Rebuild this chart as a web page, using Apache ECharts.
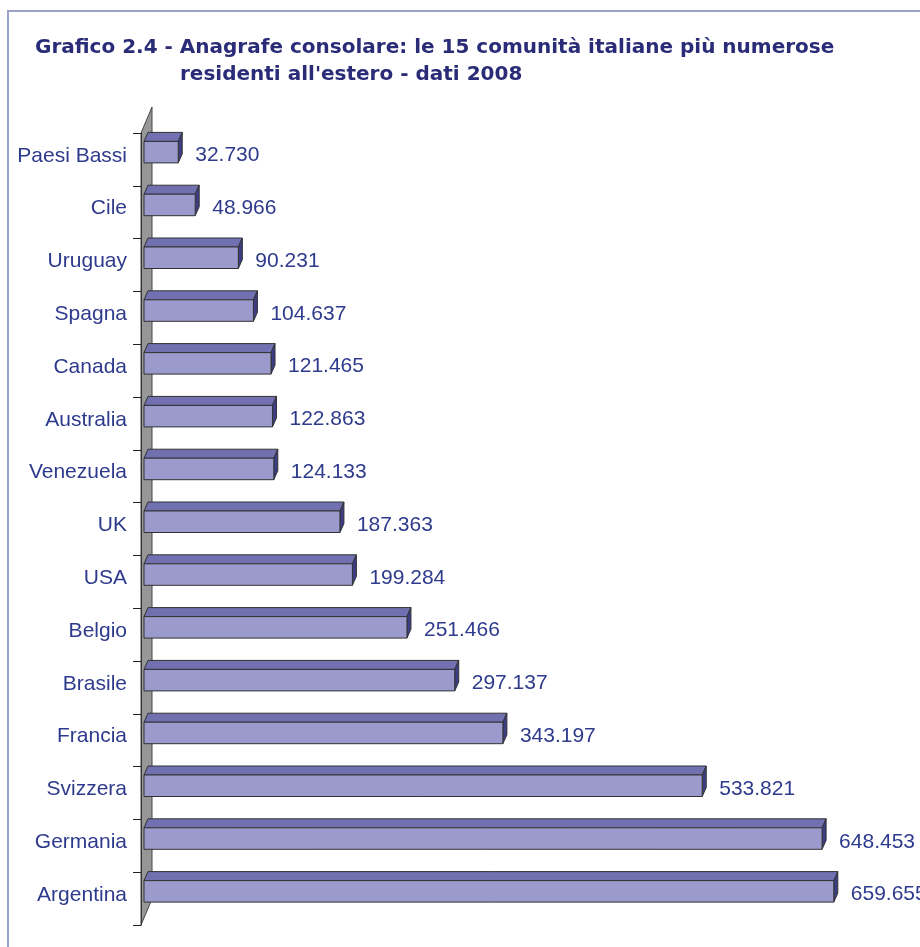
<!DOCTYPE html>
<html>
<head>
<meta charset="utf-8">
<script src="https://cdn.jsdelivr.net/npm/echarts@6/dist/echarts.min.js"></script>
<style>
  html, body { margin: 0; padding: 0; background: #fff; }
  #chart { width: 920px; height: 947px; }
</style>
</head>
<body>
<div id="chart"></div>
<script>
// categories, top to bottom
const countries = ["Paesi Bassi", "Cile", "Uruguay", "Spagna", "Canada", "Australia", "Venezuela",
  "UK", "USA", "Belgio", "Brasile", "Francia", "Svizzera", "Germania", "Argentina"];
const residents = [32730, 48966, 90231, 104637, 121465, 122863, 124133,
  187363, 199284, 251466, 297137, 343197, 533821, 648453, 659655];

const textColor = "#2e3a8c";
const fmt = (v) => String(v).replace(/\B(?=(\d{3})+(?!\d))/g, ".");

const chart = echarts.init(document.getElementById("chart"));

const titleStyle = { color: "#2a2c78", fontSize: 20, fontWeight: "bold", fontFamily: "DejaVu Sans" };

const option = {
  animation: false,
  title: [
    {
      text: "Grafico 2.4 - Anagrafe consolare: le 15 comunità italiane più numerose",
      left: 35, top: 38, padding: 0,
      textStyle: titleStyle,
    },
    {
      text: "residenti all'estero - dati 2008",
      left: 180, top: 65, padding: 0,
      textStyle: titleStyle,
    },
  ],
  graphic: [
    {
      type: "rect",
      shape: { x: 8, y: 11, width: 1000, height: 1000 },
      style: { fill: "none", stroke: "#9aa2cc", lineWidth: 2 },
      z: -10,
    },
  ],
  grid: { left: 141, right: 47, top: 133, bottom: 22 },
  xAxis: {
    type: "value",
    min: 0,
    max: 700000,
    show: false,
  },
  yAxis: {
    type: "category",
    data: countries,
    inverse: true,
    axisLine: { show: true, lineStyle: { color: "#333", width: 1 } },
    axisTick: { show: true, length: 8, lineStyle: { color: "#222", width: 1 } },
    axisLabel: {
      margin: 14,
      formatter: (name) => "{n|" + name + "}",
      rich: {
        n: {
          color: textColor,
          fontSize: 21,
          fontFamily: "Liberation Sans",
          padding: [0, 0, 7, 0],
        },
      },
    },
    z: 5,
  },
  series: [
    {
      // wall
      type: "custom",
      z: 1,
      silent: true,
      data: [[0, 0]],
      encode: { x: 0, y: 1 },
      renderItem: function (params, api) {
        const cs = params.coordSys;
        const x = cs.x, y = cs.y, h = cs.height;
        return {
          type: "polygon",
          shape: { points: [[x, y], [x + 11, y - 26], [x + 11, y + h - 26], [x, y + h]] },
          style: { fill: "#979797", stroke: "#444", lineWidth: 1 },
        };
      },
    },
    {
      type: "custom",
      z: 3,
      data: residents.map((v, i) => [v, i]),
      encode: { x: 0, y: 1 },
      renderItem: function (params, api) {
        const i = api.value(1);
        const v = api.value(0);
        const base = api.coord([0, i]);
        const end = api.coord([v, i]);
        const c = base[1];
        const x0 = base[0] + 3, x1 = end[0] + 3;
        const yT = c - 18, yB = c + 3.5, dx = 4, dy = 9;
        const line = { stroke: "#333", lineWidth: 1 };
        return {
          type: "group",
          children: [
            {
              type: "polygon",
              shape: { points: [[x0, yT], [x0 + dx, yT - dy], [x1 + dx, yT - dy], [x1, yT]] },
              style: Object.assign({ fill: "#7171b2" }, line),
            },
            {
              type: "polygon",
              shape: { points: [[x1, yT], [x1 + dx, yT - dy], [x1 + dx, yB - dy], [x1, yB]] },
              style: Object.assign({ fill: "#3d3d86" }, line),
            },
            {
              type: "rect",
              shape: { x: x0, y: yT, width: x1 - x0, height: yB - yT },
              style: Object.assign({ fill: "#9a9acc" }, line),
            },
            {
              type: "text",
              x: x1 + 17,
              y: c - 4,
              style: {
                text: fmt(v),
                fill: textColor,
                fontSize: 21,
                fontFamily: "Liberation Sans",
                verticalAlign: "middle",
                align: "left",
              },
            },
          ],
        };
      },
    },
  ],
};

chart.setOption(option);
</script>
</body>
</html>
